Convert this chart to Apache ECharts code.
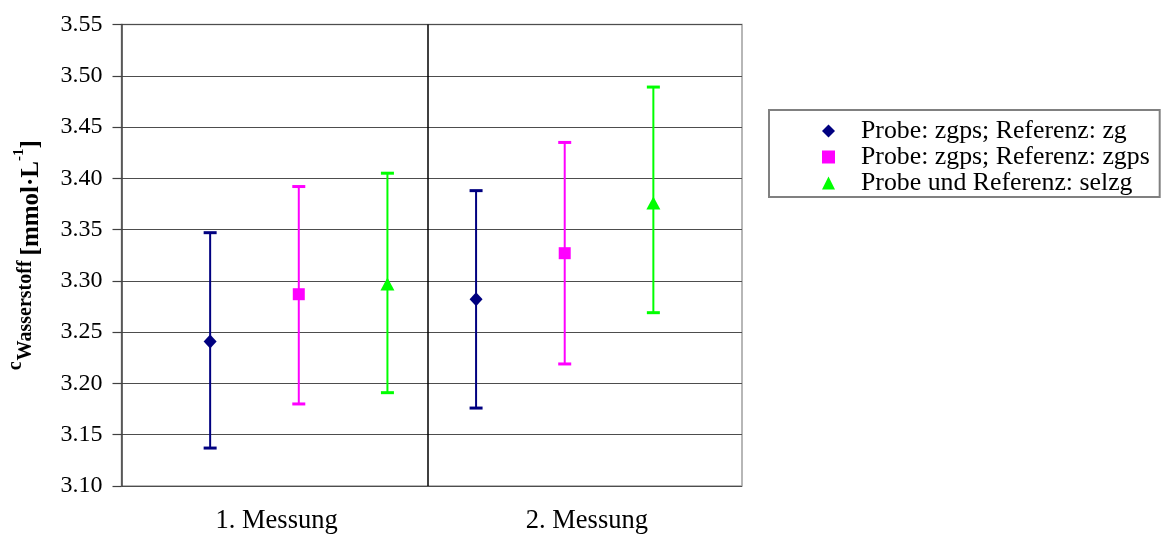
<!DOCTYPE html>
<html>
<head>
<meta charset="utf-8">
<script src="https://cdn.jsdelivr.net/npm/echarts@6/dist/echarts.min.js"></script>
<style>
  html, body { margin: 0; padding: 0; background: #fff; }
  #chart { width: 1162px; height: 534px; }
</style>
</head>
<body>
<div id="chart"></div>
<script>
// ---- data ----
const categories = ['1. Messung', '2. Messung'];
const seriesNames = ['Probe: zgps; Referenz: zg', 'Probe: zgps; Referenz: zgps', 'Probe und Referenz: selzg'];

const meanZg = [3.241, 3.282];
const lowZg = [3.137, 3.176];
const highZg = [3.347, 3.388];

const meanZgps = [3.287, 3.327];
const lowZgps = [3.180, 3.219];
const highZgps = [3.392, 3.435];

const meanSelzg = [3.297, 3.376];
const lowSelzg = [3.191, 3.269];
const highSelzg = [3.405, 3.489];

const yMin = 3.10, yMax = 3.55, yStep = 0.05;

// y-axis title pieces: c_Wasserstoff [mmol·L^-1]
const titlePieces = [
  { t: 'c', kind: 'main-small' },
  { t: 'Wasserstoff', kind: 'sub' },
  { t: '[mmol·L', kind: 'main' },
  { t: '-1', kind: 'sup' },
  { t: ']', kind: 'main' }
];

// ---- styling ----
const FONT = "'Liberation Serif', 'Times New Roman', serif";
const colors = ['#000080', '#FF00FF', '#00FF00'];
const symbols = ['diamond', 'rect', 'triangle'];
const symbolSizes = [[13, 14], [12, 12], [14, 13]];

const GRID = { left: 121.5, right: 420, top: 24.5, bottom: 48 };
const CH = 534;

const groups = [
  { mean: meanZg, low: lowZg, high: highZg },
  { mean: meanZgps, low: lowZgps, high: highZgps },
  { mean: meanSelzg, low: lowSelzg, high: highSelzg }
];
const perGroup = groups.length;
const xOf = (catIdx, sIdx) => catIdx * perGroup + sIdx + 1;
const separatorX = 3.45;

const series = [];
groups.forEach((g, s) => {
  series.push({
    type: 'custom',
    xAxisIndex: 1,
    silent: true,
    z: 2,
    data: categories.map((c, i) => [xOf(i, s), g.low[i], g.high[i]]),
    encode: { x: 0, y: [1, 2] },
    renderItem: function (params, api) {
      const x = api.value(0);
      const pLo = api.coord([x, api.value(1)]);
      const pHi = api.coord([x, api.value(2)]);
      const hw = 6.5;
      const col = colors[s];
      return {
        type: 'group',
        children: [
          { type: 'line', shape: { x1: pLo[0], y1: pLo[1], x2: pHi[0], y2: pHi[1] }, style: { stroke: col, lineWidth: 2 } },
          { type: 'line', shape: { x1: pLo[0] - hw, y1: pLo[1], x2: pLo[0] + hw, y2: pLo[1] }, style: { stroke: col, lineWidth: 3 } },
          { type: 'line', shape: { x1: pHi[0] - hw, y1: pHi[1], x2: pHi[0] + hw, y2: pHi[1] }, style: { stroke: col, lineWidth: 3 } }
        ]
      };
    }
  });
});
groups.forEach((g, s) => {
  const sr = {
    name: seriesNames[s],
    type: 'scatter',
    xAxisIndex: 1,
    z: 3,
    symbol: symbols[s],
    symbolSize: symbolSizes[s],
    itemStyle: { color: colors[s], opacity: 1 },
    data: categories.map((c, i) => [xOf(i, s), g.mean[i]])
  };
  if (s === 0) {
    sr.markLine = {
      silent: true,
      symbol: 'none',
      label: { show: false },
      lineStyle: { color: '#000', width: 1.5, type: 'solid' },
      data: [{ xAxis: separatorX }]
    };
  }
  series.push(sr);
});

// ---- rotated y-axis title built from measured text pieces ----
const kindStyle = {
  'main-small': { size: 20, base: 22, gap: 0 },
  'sub': { size: 20, base: 32, gap: 1 },
  'main': { size: 25, base: 40, gap: 0 },
  'sup': { size: 15, base: 24, gap: 0 }
};
const mctx = document.createElement('canvas').getContext('2d');
function measure(text, size) {
  mctx.font = 'bold ' + size + 'px ' + FONT;
  return mctx.measureText(text).width;
}
let cursor = 0;
const titleChildren = [];
titlePieces.forEach((p, i) => {
  const k = kindStyle[p.kind];
  let gap = k.gap;
  if (p.t.startsWith('[')) gap = 5;
  const x = cursor + gap;
  const wdt = measure(p.t, k.size);
  titleChildren.push({
    type: 'text',
    x: x,
    y: k.base - 0.32 * k.size,
    style: {
      text: p.t,
      fontFamily: FONT, fontWeight: 'bold', fontSize: k.size,
      fill: '#000', align: 'left', verticalAlign: 'middle'
    }
  });
  cursor = x + wdt;
});
const titleLen = cursor;
const plotCenterY = GRID.top + (CH - GRID.top - GRID.bottom) / 2;

const chart = echarts.init(document.getElementById('chart'), null, { renderer: 'canvas' });
chart.setOption({
  animation: false,
  backgroundColor: '#fff',
  textStyle: { fontFamily: FONT },
  grid: {
    left: GRID.left, right: GRID.right, top: GRID.top, bottom: GRID.bottom,
    containLabel: false,
    outerBoundsMode: 'none',
    show: true, borderColor: '#a0a0a0', borderWidth: 1.5, backgroundColor: 'transparent'
  },
  legend: {
    orient: 'vertical',
    left: 769, top: 110,
    padding: [8, 10, 1, 53],
    itemGap: 0,
    itemWidth: 13, itemHeight: 13,
    borderColor: '#808080', borderWidth: 2,
    selectedMode: false,
    textStyle: { fontFamily: FONT, fontSize: 25.8, color: '#000', lineHeight: 23.5, padding: [0, 0, 0, 21] },
    data: seriesNames.map((n, i) => ({ name: n, icon: symbols[i] }))
  },
  graphic: [{
    type: 'group',
    x: 0,
    y: plotCenterY + titleLen / 2,
    rotation: Math.PI / 2,
    silent: true,
    children: titleChildren
  }],
  xAxis: [
    {
      type: 'category',
      position: 'bottom',
      data: categories,
      boundaryGap: true,
      axisLine: { show: false },
      axisTick: { show: false },
      splitLine: { show: false },
      axisLabel: { fontFamily: FONT, fontSize: 26.5, color: '#000', margin: 22 }
    },
    {
      type: 'value',
      position: 'bottom',
      min: 0, max: 7,
      show: false,
      splitLine: { show: false }
    }
  ],
  yAxis: {
    type: 'value',
    min: yMin, max: yMax, interval: yStep,
    axisLine: { show: true, lineStyle: { color: '#404040', width: 1.5 } },
    axisTick: { show: true, length: 9, lineStyle: { color: '#404040', width: 1.2 } },
    splitLine: { show: true, lineStyle: { color: '#4d4d4d', width: 1.2 } },
    axisLabel: {
      fontFamily: FONT, fontSize: 24, color: '#000', margin: 19,
      formatter: v => v.toFixed(2)
    }
  },
  series: series
});
</script>
</body>
</html>
